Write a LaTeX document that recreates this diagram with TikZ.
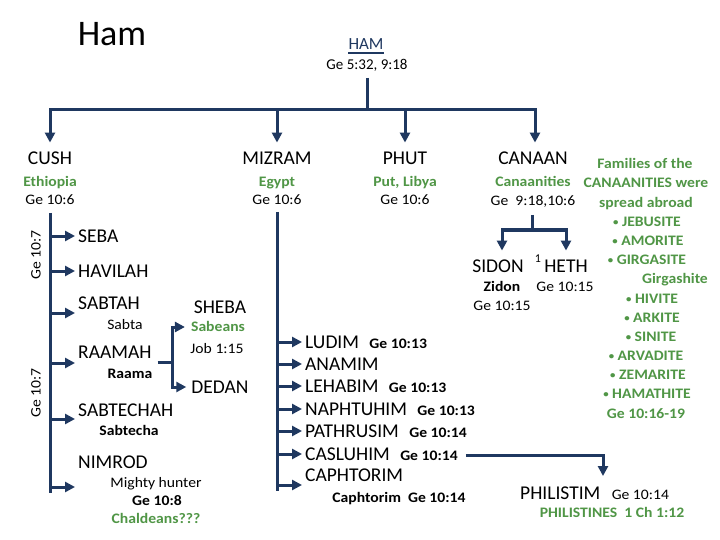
\documentclass[tikz,border=0pt]{standalone}
\usepackage{fontspec}
\setmainfont{Carlito}
\newfontfamily\smf[FakeStretch=1.08]{Carlito}
\usetikzlibrary{arrows.meta}
\definecolor{navy}{RGB}{31,56,96}
\definecolor{grn}{RGB}{80,150,70}
\newcommand{\bul}{\raisebox{1.2pt}{\fontsize{10}{10}\selectfont •}}
\begin{document}
\begin{tikzpicture}[x=1pt,y=-1pt,
  every node/.style={inner sep=0pt, text depth=0pt},
  nm/.style={font=\fontsize{19.5}{21}\selectfont, text height=12.5pt},
  gb/.style={font=\smf\fontsize{14.5}{16}\selectfont\bfseries, text=grn, text height=9.3pt},
  rf/.style={font=\smf\fontsize{14.5}{16}\selectfont, text height=9.3pt},
  rb/.style={font=\smf\fontsize{14.5}{16}\selectfont\bfseries, text height=9.3pt},
  link/.style={draw=navy, line width=3pt},
  arr/.style={link, -{Triangle[length=10pt,width=10pt]}},
]
\fill[white] (0,0) rectangle (720,540);
\useasboundingbox (0,0) rectangle (720,540);

% title and root
\node[font=\fontsize{36}{40}\selectfont, text height=23pt] (title) at (112,34) {Ham};
\node[font=\fontsize{17}{20}\selectfont, text=navy, text height=11pt] (ham) at (366,44) {HAM};
\draw[navy, line width=2pt] ([yshift=-3pt]ham.south west) -- ([yshift=-3pt]ham.south east);
\node[font=\fontsize{15}{17}\selectfont, text height=9.6pt] (hamref) at (367,65) {Ge 5:32, 9:18};

% sons
\node[nm] (cush) at (50,158) {CUSH};
\node[gb] (ethiopia) at (50,182) {Ethiopia};
\node[rf] (cushref) at (50,200) {Ge 10:6};
\node[nm] (mizram) at (277,158) {MIZRAM};
\node[gb] (egypt) at (277,182) {Egypt};
\node[rf] (mizref) at (277,200) {Ge 10:6};
\node[nm] (phut) at (405,158) {PHUT};
\node[gb] (libya) at (405,182) {Put, Libya};
\node[rf] (phutref) at (405,200) {Ge 10:6};
\node[nm] (canaan) at (533,158) {CANAAN};
\node[gb] (canaanities) at (533,182) {Canaanities};
\node[rf] (canref) at (533,201) {Ge\ \ 9:18,10:6};

\coordinate (hj) at (367,110);
\draw[link] ([yshift=-8pt]hamref.south) -- (hj);
\draw[arr] (hj) -| ([yshift=9pt]cush.north);
\draw[arr] (hj) -| ([xshift=2pt,yshift=9pt]canaan.north);
\draw[arr] (mizram.north |- hj) -- ([yshift=9pt]mizram.north);
\draw[arr] (phut.north |- hj) -- ([yshift=9pt]phut.north);

% Cush line
\node[nm, anchor=west] (seba) at (78,236) {SEBA};
\node[nm, anchor=west] (havilah) at (78,271) {HAVILAH};
\node[nm, anchor=west] (sabtah) at (78,303) {SABTAH};
\node[rf] (sabta) at (125,325) {Sabta};
\node[nm, anchor=west] (raamah) at (78,352) {RAAMAH};
\node[rb] (raama) at (130,374) {Raama};
\node[nm, anchor=west] (sabtechah) at (78,410) {SABTECHAH};
\node[rb] (sabtecha) at (129,431) {Sabtecha};
\node[nm, anchor=west] (nimrod) at (78,462) {NIMROD};
\node[rf] (mighty) at (156,483) {Mighty hunter};
\node[rb] (ge108) at (157,501) {Ge 10:8};
\node[gb] (chald) at (156,519) {Chaldeans???};
\node[rf, rotate=90] (ge107a) at (36,255) {Ge 10:7};
\node[rf, rotate=90] (ge107b) at (36,393) {Ge 10:7};

\coordinate (ct) at (50,213);
\coordinate (cb) at (50,493);
\coordinate (t3) at (75,313);
\coordinate (t4) at (75,363);
\coordinate (t5) at (75,419);
\coordinate (t6) at (75,487);
\draw[link] (ct) -- (cb);
\draw[arr] (ct |- seba.west) -- ([xshift=-3pt]seba.west);
\draw[arr] (ct |- havilah.west) -- ([xshift=-3pt]havilah.west);
\draw[arr] (t3 -| ct) -- (t3);
\draw[arr] (t4 -| ct) -- (t4);
\draw[arr] (t5 -| ct) -- (t5);
\draw[arr] (t6 -| ct) -- (t6);

% Raamah sons
\node[nm] (sheba) at (220,307) {SHEBA};
\node[gb] (sabeans) at (218,327) {Sabeans};
\node[rf] (job) at (217,349) {Job 1:15};
\node[nm] (dedan) at (220,387) {DEDAN};
\coordinate (rj) at (172,362);
\draw[link] ([xshift=6pt]raamah.east |- rj) -- (rj);
\draw[arr] (rj) |- ([xshift=-6pt]sabeans.west);
\draw[arr] (rj) |- ([xshift=-5pt]dedan.west);

% Mizram line
\node[nm, anchor=west] (ludim) at (305,342) {LUDIM};
\node[rb, anchor=base west] (ludimref) at ([xshift=10pt]ludim.base east) {Ge 10:13};
\node[nm, anchor=west] (anamim) at (305,364) {ANAMIM};
\node[nm, anchor=west] (lehabim) at (305,386) {LEHABIM};
\node[rb, anchor=base west] (lehref) at ([xshift=10pt]lehabim.base east) {Ge 10:13};
\node[nm, anchor=west] (naph) at (305,409) {NAPHTUHIM};
\node[rb, anchor=base west] (naphref) at ([xshift=10pt]naph.base east) {Ge 10:13};
\node[nm, anchor=west] (path) at (305,431) {PATHRUSIM};
\node[rb, anchor=base west] (pathref) at ([xshift=10pt]path.base east) {Ge 10:14};
\node[nm, anchor=west] (casl) at (305,454) {CASLUHIM};
\node[rb, anchor=base west] (caslref) at ([xshift=10pt]casl.base east) {Ge 10:14};
\node[nm, anchor=west] (caph) at (305,475) {CAPHTORIM};
\node[rb] (caphref) at (399,498) {Caphtorim\ \ Ge 10:14};

\coordinate (mt) at (277,212);
\coordinate (mb) at (277,491);
\coordinate (t7) at (302,485);
\draw[link] (mt) -- (mb);
\foreach \n in {ludim,anamim,lehabim,naph,path,casl}
  \draw[arr] (mt |- \n.west) -- ([xshift=-3pt]\n.west);
\draw[arr] (t7 -| mt) -- (t7);

% Philistim
\node[nm, anchor=west] (philistim) at (520,493) {PHILISTIM};
\node[rf, anchor=base west] (philref) at ([xshift=11pt]philistim.base east) {Ge 10:14};
\node[gb] (philistines) at (612,513) {PHILISTINES\ \ 1 Ch 1:12};
\coordinate (ptip) at (603,476);
\draw[arr] ([xshift=8pt]caslref.east) -| (ptip);

% Canaan sons
\node[nm] (sidon) at (498,266) {SIDON};
\node[font=\fontsize{12}{14}\selectfont, text height=7.7pt] (sup1) at (538,259) {1};
\node[nm] (heth) at (566,266) {HETH};
\node[rb] (zidon) at (502,287) {Zidon};
\node[rf] (hethref) at (565,287) {Ge 10:15};
\node[rf] (sidref) at (502,306) {Ge 10:15};
\coordinate (kj) at (532,230);
\draw[link] ([yshift=-9pt]canref.south -| kj) -- (kj);
\draw[arr] (kj) -| ([xshift=4pt,yshift=9pt]sidon.north);
\draw[arr] (kj) -| ([yshift=9pt]heth.north);

% Canaanite families
\node[gb] (f1) at (645,164) {Families of the};
\node[gb] (f2) at (646,183) {CANAANITIES were};
\node[gb] (f3) at (646,203) {spread abroad};
\node[gb] (f4) at (647,222) {\bul\ JEBUSITE};
\node[gb] (f5) at (648,241) {\bul\ AMORITE};
\node[gb] (f6) at (647,260) {\bul\ GIRGASITE};
\node[gb] (f7) at (675,279) {Girgashite};
\node[gb] (f8) at (652,299) {\bul\ HIVITE};
\node[gb] (f9) at (652,318) {\bul\ ARKITE};
\node[gb] (f10) at (651,337) {\bul\ SINITE};
\node[gb] (f11) at (646,356) {\bul\ ARVADITE};
\node[gb] (f12) at (648,375) {\bul\ ZEMARITE};
\node[gb] (f13) at (647,394) {\bul\ HAMATHITE};
\node[gb] (f14) at (646,414) {Ge 10:16-19};
\end{tikzpicture}
\end{document}
